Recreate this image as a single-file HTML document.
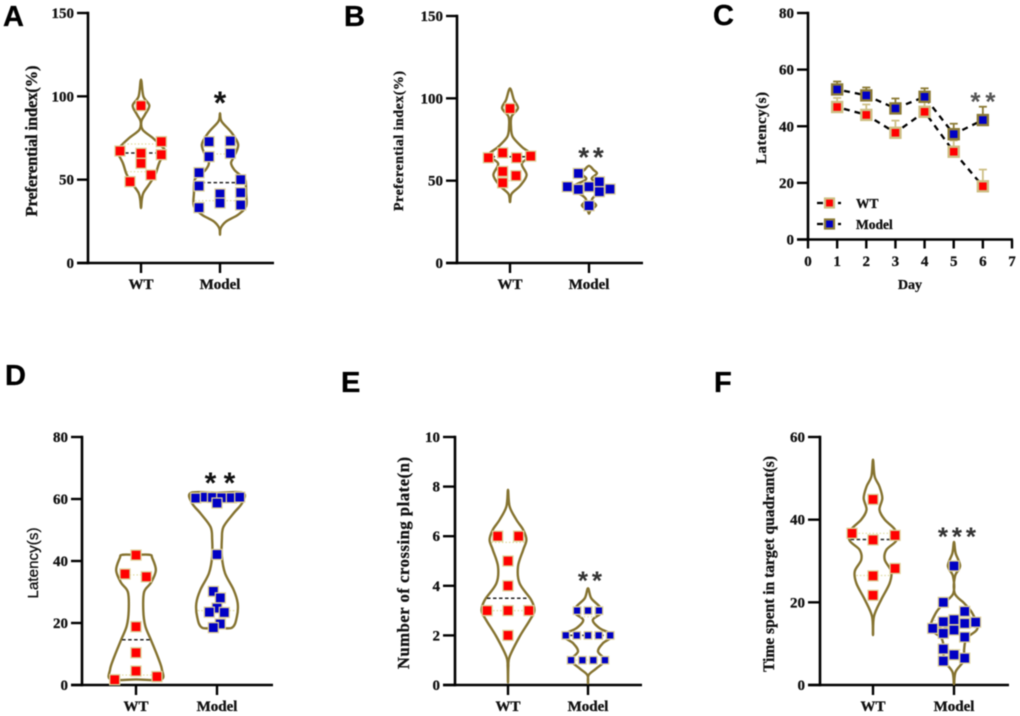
<!DOCTYPE html>
<html lang="en">
<head>
<meta charset="utf-8">
<title>Behavioural test panels A-F</title>
<style>
html,body{margin:0;padding:0;background:#fff;}
body{width:1020px;height:716px;overflow:hidden;}
svg{display:block;}
#root{filter:blur(0.6px);}
text{font-family:"Liberation Serif",serif;font-weight:bold;fill:#111;stroke:#111;stroke-width:0.3px;}
</style>
</head>
<body>
<svg id="figure" width="1020" height="716" viewBox="0 0 1020 716" xmlns="http://www.w3.org/2000/svg">
  <rect width="1020" height="716" fill="#fff"/>
  <g id="root"></g>
</svg>
<script>
// ---------- shared labels ----------
const groupLabels = ['WT', 'Model'];

// ---------- Panel A ----------
const aTicks = [0, 50, 100, 150];
const aWtValues = [94.4, 67.2, 72.8, 65, 65.8, 59.8, 52.8, 48.8];
const aWtJitter = [0, -.266, .257, .257, 0, 0, .127, -.139];
const aModelValues = [72.8, 73.2, 63.8, 65.8, 54.2, 50, 46.2, 41.4, 42.2, 36, 34.8, 33.2];
const aModelJitter = [-.139, .131, -.139, .131, -.266, .262, -.266, 0, .262, 0, .262, -.266];
const aWtViolinLevels = [110, 100, 94.5, 89, 85, 80, 75, 70, 67, 60, 53, 47, 42, 38, 33];
const aWtViolinWidths = [0, .03, .105, .05, .005, .02, .15, .26, .3, .23, .18, .1, .03, .01, 0];
const aModelViolinLevels = [89.8, 85, 78, 71, 64, 60, 56, 53, 50, 42, 34, 29, 25, 21, 17];
const aModelViolinWidths = [0, .02, .15, .23, .18, .14, .18, .25, .32, .33, .33, .23, .08, .01, 0];
const aWtQuartiles = [54.8, 66, 71.4];
const aModelQuartiles = [37.4, 48.2, 65.4];

// ---------- Panel B ----------
const bTicks = [0, 50, 100, 150];
const bWtValues = [93.8, 66.9, 63.9, 63.9, 64.9, 55.6, 53, 48.7];
const bWtJitter = [0, -.093, -.274, .084, .262, -.093, .076, -.093];
const bModelValues = [54.4, 46.3, 44.7, 46.3, 49.3, 43.3, 44.9, 34.8];
const bModelJitter = [-.135, -.274, -.135, 0, .131, .131, .266, 0];
const bWtViolinLevels = [106, 99, 94, 89, 83, 76.6, 70.5, 65.5, 60.4, 53.4, 47, 42, 37];
const bWtViolinWidths = [0, .05, .1, .02, .012, .035, .15, .27, .15, .21, .13, .02, 0];
const bModelViolinLevels = [59, 56.4, 54.4, 51, 48, 45, 41, 38, 35, 32, 30];
const bModelViolinWidths = [0, .06, .1, .035, .15, .25, .085, .035, .09, .02, 0];
const bWtQuartiles = [50, 64.5, 65.5];
const bModelQuartiles = [44.5, 46, 48];

// ---------- Panel C ----------
const cYTicks = [0, 20, 40, 60, 80];
const cXTicks = [0, 1, 2, 3, 4, 5, 6, 7];
const cDays = [1, 2, 3, 4, 5, 6];
const cWtMeans = [46.8, 44, 37.7, 45.1, 31, 18.8];
const cWtErrorTops = [50, 47.7, 42, 48.6, 35, 24.7];
const cModelMeans = [53, 50.9, 46.3, 50.4, 37.2, 42.2];
const cModelErrorTops = [55.8, 53.7, 49.8, 53.4, 40.9, 46.9];

// ---------- Panel D ----------
const dTicks = [0, 20, 40, 60, 80];
const dWtValues = [41.9, 35.8, 34.9, 18.8, 10.4, 4.5, 2.7, 1.7];
const dWtJitter = [0, -.136, .128, 0, 0, 0, .259, -.263];
const dModelValues = [60.3, 60.6, 60.5, 60.4, 60.4, 60.6, 58.7, 42.1, 30.2, 28.1, 24.8, 23.5, 23.4, 19.7, 18.5];
const dModelJitter = [-.263, -.144, -.056, .058, .177, .28, 0, 0, -.045, .041, 0, -.095, .09, .04, -.045];
const dWtViolinLevels = [42, 42, 41, 37, 33, 30, 24, 19, 14.5, 9, 5, 1.8, 1.8];
const dWtViolinWidths = [0, .17, .2, .245, .185, .1, .09, .115, .185, .27, .32, .31, 0];
const dModelViolinLevels = [62, 62, 58.7, 55.4, 51, 47, 41.4, 36, 30.7, 26.4, 22, 18.5, 18.5];
const dModelViolinWidths = [0, .32, .31, .205, .08, .06, .06, .1, .205, .255, .245, .185, 0];
const dWtQuartiles = [3.2, 14.6, 35.5];
const dModelQuartiles = [24, 42, 60.4];

// ---------- Panel E ----------
const eTicks = [0, 2, 4, 6, 8, 10];
const eWtValues = [6, 6, 5, 4, 3, 3, 3, 2];
const eWtJitter = [-.129, .133, 0, 0, -.261, 0, .261, 0];
const eModelValues = [3, 3, 3, 2, 2, 2, 2, 2, 1, 1, 1, 1];
const eModelJitter = [-.137, 0, .137, -.278, -.141, 0, .133, .278, -.212, -.07, .066, .212];
const eWtViolinLevels = [7.87, 7.2, 6.66, 6.26, 5.85, 5.45, 4.78, 4.1, 3.43, 3, 2.6, 1.95, 1.14, .74, .1];
const eWtViolinWidths = [0, .02, .105, .19, .23, .19, .125, .145, .29, .33, .27, .145, .02, .004, 0];
const eModelViolinLevels = [3.9, 3.5, 3.16, 2.9, 2.62, 2.29, 2, 1.68, 1.35, 1, .67, .4, .07];
const eModelViolinWidths = [0, .04, .145, .165, .06, .145, .31, .185, .125, .21, .105, .008, 0];
const eWtQuartiles = [3, 3.5, 5.75];
const eModelQuartiles = [1, 2, 2.75];

// ---------- Panel F ----------
const fTicks = [0, 20, 40, 60];
const fWtValues = [44.9, 36.7, 36.2, 35.1, 28.2, 26.4, 21.7];
const fWtJitter = [0, -.259, .272, 0, .272, 0, 0];
const fModelValues = [28.8, 20, 17.8, 15.3, 15.8, 14.9, 15.2, 13.7, 13.3, 12.5, 11.6, 8.7, 7.3, 6.5, 5.8];
const fModelJitter = [0, -.132, .132, -.132, 0, .132, .267, -.263, 0, -.132, .132, -.132, 0, .132, -.132];
const fWtViolinLevels = [54.5, 50.5, 48, 45.2, 42.4, 40, 37.6, 35, 32.7, 30.3, 27.5, 24.6, 20.6, 16.6, 12.1];
const fWtViolinWidths = [0, .02, .08, .115, .08, .145, .27, .29, .165, .145, .225, .205, .1, .012, 0];
const fModelViolinLevels = [34.6, 31.9, 28.8, 26.3, 22.2, 19.8, 17.4, 13.7, 11.3, 8.5, 6, 3.2, .2];
const fModelViolinWidths = [0, .02, .075, .012, .008, .125, .225, .29, .155, .125, .125, .02, 0];
const fWtQuartiles = [26.5, 35.2, 36.7];
const fModelQuartiles = [8.5, 14, 15.6];

// ---------- drawing helpers ----------
const SVGNS = 'http://www.w3.org/2000/svg';
const root = document.getElementById('root');
const VIOLIN = '#857330';
const BORDER = '#dccf98';
const RED = '#ff0000';
const BLUE = '#0000c4';

function node(tag, attrs, parent, text) {
  const el = document.createElementNS(SVGNS, tag);
  for (const k in attrs) el.setAttribute(k, attrs[k]);
  if (text !== undefined) el.textContent = text;
  (parent || root).appendChild(el);
  return el;
}

function linearScale(d0, d1, r0, r1) {
  return v => r0 + (v - d0) / (d1 - d0) * (r1 - r0);
}

function drawYAxis(g, p, ticks, y) {
  const axis = node('line', {x1: p.x0, x2: p.x0, y1: y(ticks[ticks.length - 1]) - 1.2, y2: p.bottom + 1.2, stroke: '#000', 'stroke-width': 2.6}, g);
  
  
  ticks.forEach(t => {
    const tick = node('line', {x1: p.tickLeft, x2: p.x0, y1: y(t), y2: y(t), stroke: '#000', 'stroke-width': 2.4}, g);
    
    
    const lab = node('text', {x: p.tickLeft - 3, y: y(t) + 5, 'text-anchor': 'end', 'font-size': 15}, g, String(t));
    
    
  });
}

function drawYTitle(g, p) {
  const t = node('text', {
    transform: 'translate(' + p.titleX + ',' + p.titleY + ') rotate(-90)',
    'text-anchor': 'middle', 'font-size': p.titleSize || 15,
    textLength: p.titleLen, lengthAdjust: 'spacing'
  }, g, p.title);
  if (p.titleSans) {
    t.style.fontFamily = '"Liberation Sans", sans-serif';
    t.style.fontWeight = 'normal';
    t.style.stroke = '#111';
    t.style.strokeWidth = '0.35px';
  }
  
  
}

function drawPanelLetter(g, p) {
  const t = node('text', {x: p.letterX, y: p.letterY, 'font-size': 29}, g, p.letter);
  t.style.fontFamily = '"Liberation Sans", sans-serif';
  t.style.fill = '#000';
  t.style.stroke = '#000';
  
  
}

function drawStars(g, s) {
  const adv = s.size * 0.389;
  const ls = s.spacing ? s.spacing - adv : 0;
  const t = node('text', {
    x: s.x + ls / 2, y: s.y + s.size * 0.56, 'text-anchor': 'middle', 'font-size': s.size,
    'letter-spacing': ls
  }, g, s.text);
  t.style.fontFamily = '"Liberation Sans", sans-serif';
  t.style.fill = s.color || '#222';
  t.style.stroke = 'none';
  
  
}

function widthAt(levels, widths, v) {
  for (let i = 0; i < levels.length - 1; i++) {
    const a = levels[i], b = levels[i + 1];
    if (v <= a && v >= b && a !== b) {
      return widths[i] + (a - v) / (a - b) * (widths[i + 1] - widths[i]);
    }
  }
  return 0;
}

function smoothClosed(pts) {
  const n = pts.length;
  let d = 'M' + pts[0][0].toFixed(2) + ' ' + pts[0][1].toFixed(2);
  for (let i = 0; i < n; i++) {
    const p0 = pts[(i - 1 + n) % n], p1 = pts[i], p2 = pts[(i + 1) % n], p3 = pts[(i + 2) % n];
    const c1x = p1[0] + (p2[0] - p0[0]) / 6, c1y = p1[1] + (p2[1] - p0[1]) / 6;
    const c2x = p2[0] - (p3[0] - p1[0]) / 6, c2y = p2[1] - (p3[1] - p1[1]) / 6;
    d += 'C' + c1x.toFixed(2) + ' ' + c1y.toFixed(2) + ' ' + c2x.toFixed(2) + ' ' + c2y.toFixed(2) + ' ' + p2[0].toFixed(2) + ' ' + p2[1].toFixed(2);
  }
  return d + 'Z';
}

function drawViolinGroup(g, p, y, cat, group) {
  const cx = p.cats[cat];
  const unit = p.cats[1] - p.cats[0];
  const size = group.pointSize || 10;
  const left = group.levels.map((v, i) => [cx - group.widths[i] * unit, y(v)]);
  const right = group.levels.map((v, i) => [cx + group.widths[i] * unit, y(v)]).reverse().slice(1, -1);
  const violin = node('path', {d: smoothClosed(left.concat(right)), fill: 'none', stroke: VIOLIN, 'stroke-width': 2.4, 'stroke-linejoin': 'round'}, g);
  
  

  group.quartiles.forEach((q, i) => {
    const hw = Math.max(widthAt(group.levels, group.widths, q) * unit - 1, 0);
    const isMedian = i === 1;
    const line = node('line', {
      x1: cx - hw, x2: cx + hw, y1: y(q), y2: y(q),
      stroke: isMedian ? '#222' : '#e0dba0', 'stroke-width': isMedian ? 1.5 : 1.2,
      'stroke-dasharray': isMedian ? '3.5 2.5' : '1.5 2'
    }, g);
    
    
  });

  group.values.forEach((v, i) => {
    const px = cx + group.jitter[i] * unit;
    const pt = node('rect', {x: px - size / 2, y: y(v) - size / 2, width: size, height: size, fill: cat === 0 ? RED : BLUE, stroke: BORDER, 'stroke-width': 1.3}, g);
    
    
  });
}

function drawViolinPanel(p) {
  const g = node('g', {});
  
  
  const maxT = p.ticks[p.ticks.length - 1];
  const y = linearScale(0, maxT, p.bottom, p.top);
  drawPanelLetter(g, p);
  drawYAxis(g, p, p.ticks, y);
  const xAxis = node('line', {x1: p.tickLeft, x2: p.xEnd, y1: p.bottom, y2: p.bottom, stroke: '#000', 'stroke-width': 2.4}, g);
  
  
  groupLabels.forEach((lab, i) => {
    const tick = node('line', {x1: p.cats[i], x2: p.cats[i], y1: p.bottom, y2: p.bottom + 10, stroke: '#000', 'stroke-width': 2.4}, g);
    
    
    const t = node('text', {x: p.cats[i], y: p.bottom + 26, 'text-anchor': 'middle', 'font-size': 15}, g, lab);
    
    
  });
  drawYTitle(g, p);
  drawViolinGroup(g, p, y, 0, p.wt);
  drawViolinGroup(g, p, y, 1, p.model);
  drawStars(g, p.stars);
}

function drawSeriesC(g, x, y, means, tops, fill, ring) {
  const n = cDays.length;
  let d = '';
  for (let i = 0; i < n; i++) d += (i ? 'L' : 'M') + x(cDays[i]).toFixed(2) + ' ' + y(means[i]).toFixed(2);
  const line = node('path', {d: d, fill: 'none', stroke: '#000', 'stroke-width': 2.3, 'stroke-dasharray': '6 5', 'stroke-dashoffset': -7}, g);
  
  
  for (let i = 0; i < n; i++) {
    const px = x(cDays[i]);
    const stem = node('line', {x1: px, x2: px, y1: y(means[i]), y2: y(tops[i]), stroke: ring, 'stroke-width': 1.8}, g);
    
    
    const cap = node('line', {x1: px - 4, x2: px + 4, y1: y(tops[i]), y2: y(tops[i]), stroke: ring, 'stroke-width': 1.8}, g);
    
    
    const m = node('rect', {x: px - 5, y: y(means[i]) - 5, width: 10, height: 10, fill: fill, stroke: ring, 'stroke-width': 2.4}, g);
    
    
  }
}

function drawLegendEntry(g, label, cy, fill, ring) {
  const entry = node('g', {}, g);
  
  
  node('line', {x1: 817, x2: 823, y1: cy, y2: cy, stroke: '#000', 'stroke-width': 2.3}, entry);
  node('line', {x1: 838, x2: 841, y1: cy, y2: cy, stroke: '#000', 'stroke-width': 2.3}, entry);
  node('rect', {x: 825, y: cy - 4.5, width: 9, height: 9, fill: fill, stroke: ring, 'stroke-width': 2.2}, entry);
  node('text', {x: 856, y: cy + 5, 'font-size': 13.5}, entry, label);
}

function drawPanelC() {
  const p = {
    letter: 'C', letterX: 713, letterY: 25, x0: 808, tickLeft: 797, bottom: 239.5,
    title: 'Latency(s)', titleX: 766, titleY: 128, titleLen: 72, titleSize: 15
  };
  const g = node('g', {});
  
  
  const y = linearScale(0, 80, 239.5, 13);
  const x = linearScale(0, 7, 808, 1012);
  drawPanelLetter(g, p);
  drawYAxis(g, p, cYTicks, y);
  const xAxis = node('line', {x1: p.tickLeft, x2: 1013, y1: p.bottom, y2: p.bottom, stroke: '#000', 'stroke-width': 2.4}, g);
  
  
  cXTicks.forEach(t => {
    const tick = node('line', {x1: x(t), x2: x(t), y1: p.bottom, y2: p.bottom + 9, stroke: '#000', 'stroke-width': 2.4}, g);
    
    
    const lab = node('text', {x: x(t), y: 266, 'text-anchor': 'middle', 'font-size': 15}, g, String(t));
    
    
  });
  const xTitle = node('text', {x: 910, y: 289, 'text-anchor': 'middle', 'font-size': 14}, g, 'Day');
  
  
  drawYTitle(g, p);
  drawSeriesC(g, x, y, cWtMeans, cWtErrorTops, RED, '#cdbf85');
  drawSeriesC(g, x, y, cModelMeans, cModelErrorTops, BLUE, '#8c7b36');
  drawLegendEntry(g, groupLabels[0], 203, RED, '#cdbf85');
  drawLegendEntry(g, groupLabels[1], 224, BLUE, '#8c7b36');
  drawStars(g, {x: 983, y: 96, size: 26, spacing: 15, text: '**', color: '#555'});
}

// ---------- panels ----------
drawViolinPanel({
  letter: 'A', letterX: 3, letterY: 26, ticks: aTicks, x0: 88, tickLeft: 77, top: 13, bottom: 263, xEnd: 274, cats: [141, 220],
  title: 'Preferential index(%)', titleX: 37, titleY: 141, titleLen: 151, titleSize: 16.5,
  wt: {values: aWtValues, jitter: aWtJitter, levels: aWtViolinLevels, widths: aWtViolinWidths, quartiles: aWtQuartiles},
  model: {values: aModelValues, jitter: aModelJitter, levels: aModelViolinLevels, widths: aModelViolinWidths, quartiles: aModelQuartiles},
  stars: {x: 220, y: 96, size: 32, spacing: 0, text: '*', color: '#111'}
});
drawViolinPanel({
  letter: 'B', letterX: 344, letterY: 26, ticks: bTicks, x0: 457, tickLeft: 446, top: 16, bottom: 263, xEnd: 643, cats: [510, 589],
  title: 'Preferential index(%)', titleX: 403, titleY: 141, titleLen: 140, titleSize: 14,
  wt: {values: bWtValues, jitter: bWtJitter, levels: bWtViolinLevels, widths: bWtViolinWidths, quartiles: bWtQuartiles},
  model: {values: bModelValues, jitter: bModelJitter, levels: bModelViolinLevels, widths: bModelViolinWidths, quartiles: bModelQuartiles},
  stars: {x: 591, y: 151, size: 28, spacing: 14.7, text: '**', color: '#333'}
});
drawPanelC();
drawViolinPanel({
  letter: 'D', letterX: 5, letterY: 385, ticks: dTicks, x0: 82, tickLeft: 71, top: 437, bottom: 685, xEnd: 273, cats: [136, 217],
  title: 'Latency(s)', titleX: 38, titleY: 563, titleLen: 71, titleSize: 15, titleSans: true,
  wt: {values: dWtValues, jitter: dWtJitter, levels: dWtViolinLevels, widths: dWtViolinWidths, quartiles: dWtQuartiles},
  model: {values: dModelValues, jitter: dModelJitter, levels: dModelViolinLevels, widths: dModelViolinWidths, quartiles: dModelQuartiles},
  stars: {x: 220, y: 476, size: 30, spacing: 19, text: '**', color: '#111'}
});
drawViolinPanel({
  letter: 'E', letterX: 341, letterY: 392, ticks: eTicks, x0: 455, tickLeft: 443, top: 437, bottom: 685, xEnd: 642, cats: [508, 588],
  title: 'Number of crossing plate(n)', titleX: 409, titleY: 563, titleLen: 212, titleSize: 16.5,
  wt: {values: eWtValues, jitter: eWtJitter, levels: eWtViolinLevels, widths: eWtViolinWidths, quartiles: eWtQuartiles},
  model: {values: eModelValues, jitter: eModelJitter, levels: eModelViolinLevels, widths: eModelViolinWidths, quartiles: eModelQuartiles, pointSize: 7.5},
  stars: {x: 590, y: 575, size: 26, spacing: 14, text: '**', color: '#333'}
});
drawViolinPanel({
  letter: 'F', letterX: 714, letterY: 392, ticks: fTicks, x0: 820, tickLeft: 808, top: 437, bottom: 685, xEnd: 1009, cats: [873, 954],
  title: 'Time spent in target quadrant(s)', titleX: 774, titleY: 564, titleLen: 216, titleSize: 15.5,
  wt: {values: fWtValues, jitter: fWtJitter, levels: fWtViolinLevels, widths: fWtViolinWidths, quartiles: fWtQuartiles},
  model: {values: fModelValues, jitter: fModelJitter, levels: fModelViolinLevels, widths: fModelViolinWidths, quartiles: fModelQuartiles},
  stars: {x: 957, y: 531, size: 26, spacing: 14, text: '***', color: '#333'}
});
</script>
</body>
</html>
